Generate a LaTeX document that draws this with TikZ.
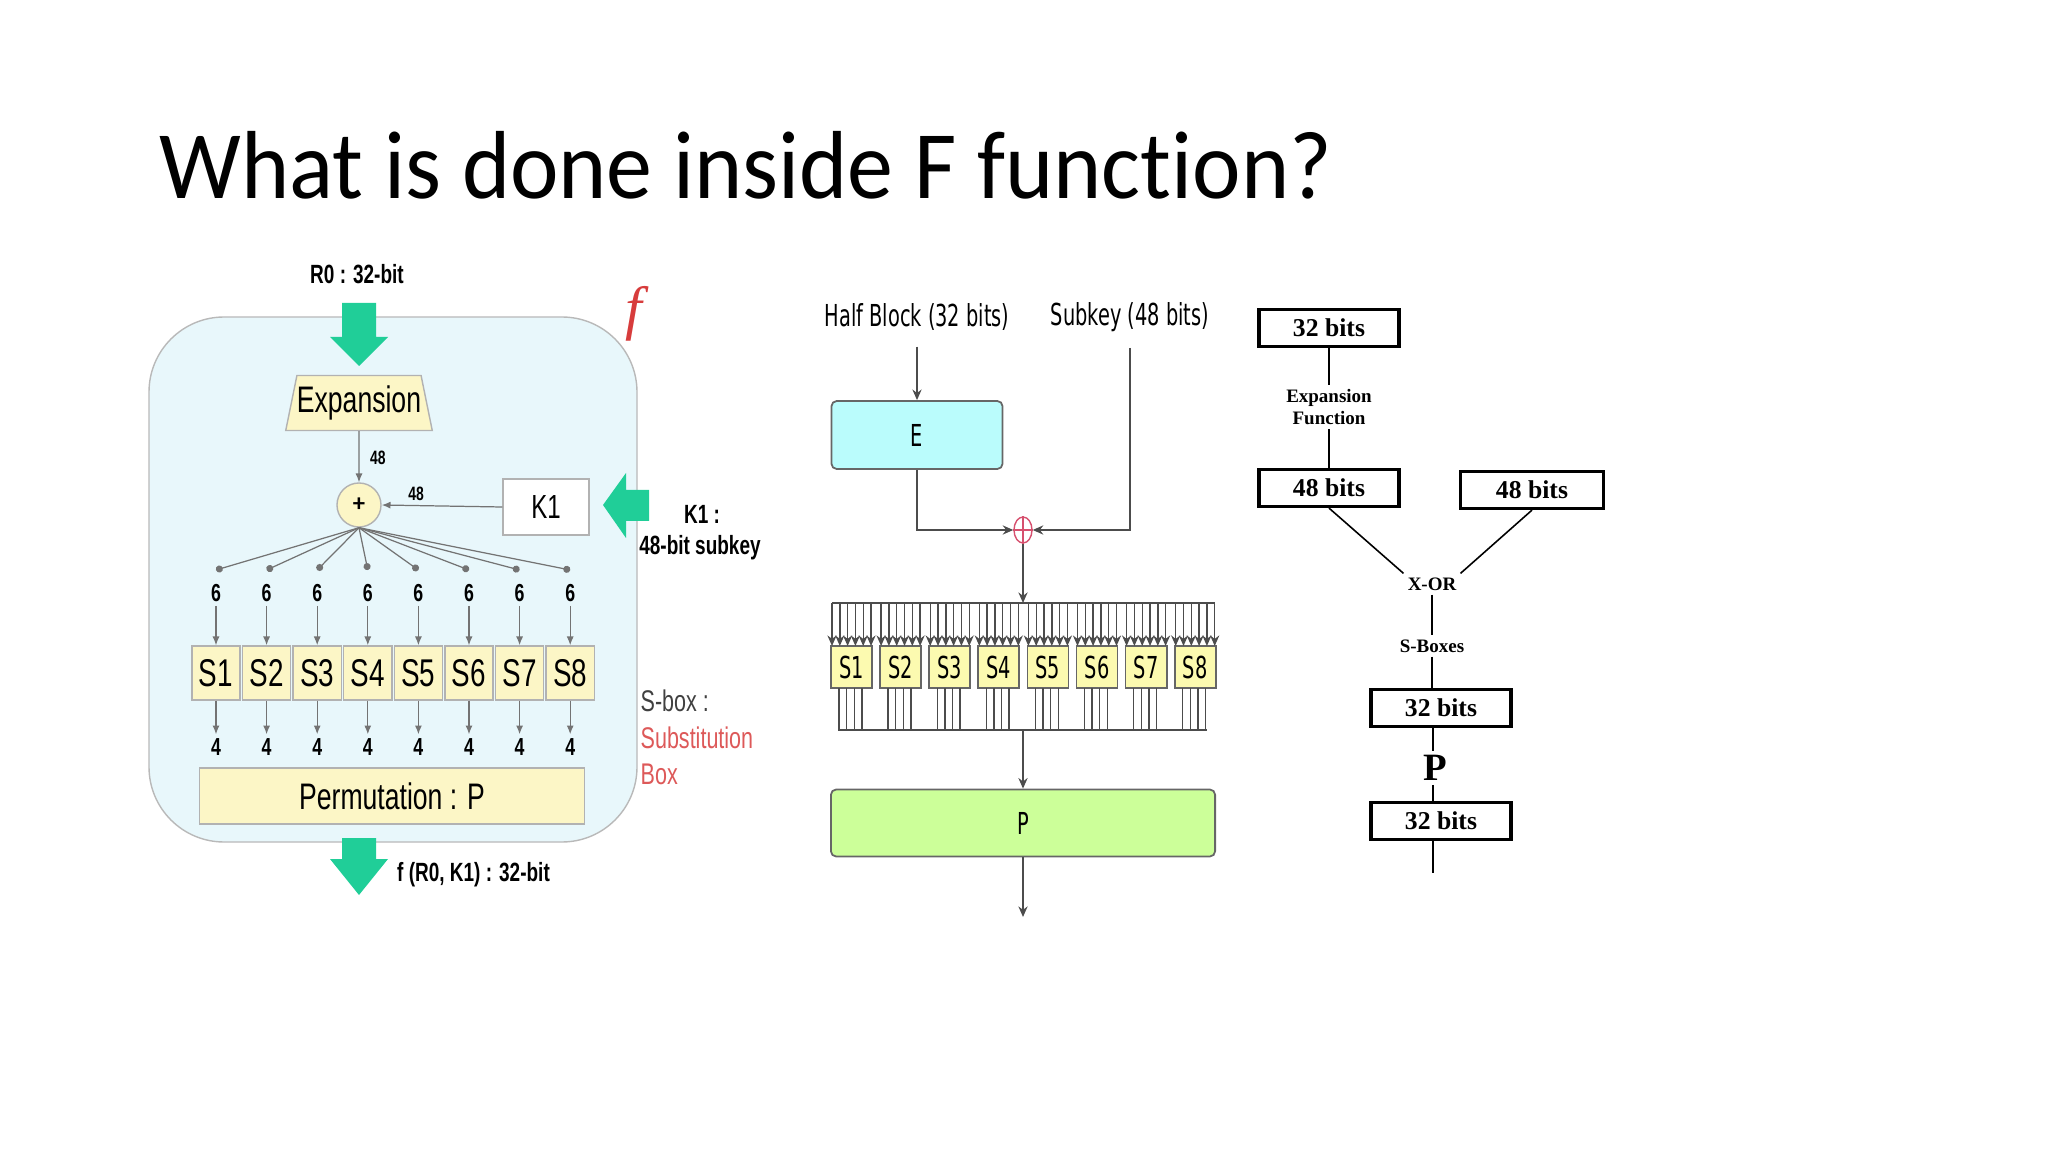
\documentclass[tikz,border=0pt]{standalone}
\usepackage{fontspec}
\setmainfont{Carlito}[Ligatures=NoCommon]
\newfontfamily\titlefont[FakeStretch=0.95,Ligatures=NoCommon]{Carlito}
\newfontfamily\narrowsf[FakeStretch=0.72]{Liberation Sans}
\newfontfamily\condsf[FakeStretch=0.64]{DejaVu Sans}
\newfontfamily\timesf{Liberation Serif}
\usetikzlibrary{arrows.meta,shapes.geometric,positioning}
\definecolor{fcyan}{RGB}{232,247,251}
\definecolor{fgreen}{RGB}{32,206,152}
\definecolor{fyellow}{RGB}{252,246,198}
\definecolor{ecyan}{RGB}{186,252,252}
\definecolor{pgreen}{RGB}{204,255,153}
\definecolor{syellow}{RGB}{252,250,176}
\definecolor{xred}{RGB}{214,80,110}
\definecolor{fred}{RGB}{215,60,60}

\begin{document}
\begin{tikzpicture}[x=0.01cm,y=-0.01cm,
    tinynum/.style={font=\narrowsf\bfseries\fontsize{5.5}{6}\selectfont, inner sep=1pt},
    num/.style={font=\narrowsf\bfseries\fontsize{7}{8}\selectfont, inner sep=1pt},
    lbl/.style={font=\narrowsf\bfseries\fontsize{7.5}{9}\selectfont, inner sep=1pt},
    note/.style={font=\narrowsf\fontsize{8.5}{10}\selectfont, inner sep=0pt, anchor=west},
    ybox/.style={draw=gray!60, fill=fyellow, font=\narrowsf\fontsize{11}{12}\selectfont, inner sep=0pt},
    fan/.style={draw=gray!90!black, line width=0.35pt},
    smallarr/.style={-{Latex[length=2.5pt,width=2pt]}},
    midtxt/.style={font=\condsf\fontsize{8.6}{10}\selectfont, inner sep=1pt},
    mbox/.style={draw=gray!80!black, line width=0.5pt, rounded corners=1.5pt, font=\condsf\fontsize{8.6}{10}\selectfont},
    wire/.style={draw=gray!60!black, line width=0.5pt},
    wtip/.style={-{Stealth[length=3pt,width=2.6pt]}},
    bbox/.style={draw, line width=0.9pt, minimum width=1.4cm, minimum height=0.37cm, inner sep=0pt, font=\timesf\bfseries\fontsize{7.3}{8}\selectfont},
    btxt/.style={font=\timesf\bfseries\fontsize{5.4}{6.2}\selectfont, inner sep=1pt, align=center},
    rline/.style={line width=0.45pt}]
\useasboundingbox (0,0) rectangle (2048,1152);

% Tiêu đề
\node[anchor=base west, inner sep=0pt, font=\titlefont\fontsize{27.5}{30}\selectfont] (title) at (159,199) {What is done inside F function?};

% Hình trái: khung f
\draw[draw=gray!55, fill=fcyan, rounded corners=0.75cm] (149,317) rectangle (637,842);
\node[font=\timesf\itshape\fontsize{17}{18}\selectfont, text=fred] (fsym) at (634,314) {f};
% Mũi tên xanh
\fill[fgreen] (342,303) -- (376,303) -- (376,337) -- (388,337) -- (359,366) -- (330,337) -- (342,337) -- cycle;
\fill[fgreen] (342,838) -- (376,838) -- (376,859) -- (388,859) -- (359,895) -- (330,859) -- (342,859) -- cycle;
\fill[fgreen] (649,490) -- (626,490) -- (626,473) -- (603,505) -- (626,538) -- (626,521) -- (649,521) -- cycle;
% Các khối
\node[lbl] (r0) at (357,274) {R0 : 32-bit};
\node[draw=gray!60, fill=fyellow, trapezium, trapezium left angle=72, trapezium right angle=72,
      trapezium stretches body, minimum width=1.3cm, minimum height=0.55cm, inner sep=0pt,
      font=\narrowsf\fontsize{10.5}{12}\selectfont] (expn) at (359,403) {Expansion};
\node[circle, draw=gray!60, fill=fyellow, minimum size=0.44cm, inner sep=0pt,
      font=\bfseries\fontsize{7}{8}\selectfont] (add) at (359,505) {+};
\node[draw=gray!60, fill=white, minimum width=0.86cm, minimum height=0.56cm, inner sep=0pt,
      font=\narrowsf\fontsize{9.5}{10}\selectfont] (k1) at (546,507) {K1};
\draw[fan, smallarr] (expn.south) -- (add.north);
\node[tinynum, anchor=west] (n48a) at (366,458) {48};
\draw[fan, smallarr] (k1.west) -- (add.east);
\node[tinynum] (n48b) at (416,494) {48};
% S-box trái
\foreach \i in {1,...,8} {
  \pgfmathsetmacro\xs{216+50.6*(\i-1)}
  \coordinate (d\i) at (\xs,570);
  \node[ybox, minimum width=0.48cm, minimum height=0.54cm] (s\i) at (\xs,673) {S\i};
  \node[num] (six\i) at (\xs,593) {6};
  \node[num] (four\i) at (\xs,747) {4};
  \draw[fan, -{Circle[length=2pt]}] (add.south) -- (d\i);
  \draw[fan, smallarr] (six\i.south) -- (s\i.north);
  \draw[fan, smallarr] (s\i.south) -- (four\i.north);
}
\node[ybox, minimum width=3.85cm, minimum height=0.56cm,
      font=\narrowsf\fontsize{10.5}{12}\selectfont] (perm) at (392,796) {Permutation : P};
% Nhãn bên phải
\node[lbl] (k1lbl) at (702,514) {K1 :};
\node[lbl] (k1sub) at (700,548) {48-bit subkey};
\node[note, text=black!75] (sbx1) at (640,701) {S-box :};
\node[note, text=fred!85] (sbx2) at (640,738) {Substitution};
\node[note, text=fred!85] (sbx3) at (640,774) {Box};
\node[lbl, anchor=west] (fout) at (393,875) {f (R0, K1) : 32-bit};

% Hình giữa
\node[midtxt] (hb) at (917,317) {Half Block (32 bits)};
\node[midtxt] (sk) at (1130,317) {Subkey (48 bits)};
\node[mbox, fill=ecyan, minimum width=1.71cm, minimum height=0.68cm] (ebox) at (917,435) {E};
\node[draw=xred, ellipse, minimum width=0.18cm, minimum height=0.26cm, inner sep=0pt, line width=0.4pt] (xm) at (1023,530) {};
\draw[xred, line width=0.3pt] (xm.north) -- (xm.south) (xm.west) -- (xm.east);
\draw[wire, wtip, shorten <=0.12cm] (hb.south) -- (ebox.north);
\draw[wire, wtip] (ebox.south) |- (xm.west);
\draw[wire, wtip, shorten <=0.12cm] (sk.south) |- (xm.east);
\coordinate (btop) at (1023,603);
\draw[wire, wtip] (xm.south) -- (btop);
\draw[wire] (832,603) -- (1215,603);
\foreach \i in {1,...,8} {
  \pgfmathsetmacro\sl{831+49.1*(\i-1)}
  \node[mbox, rounded corners=0pt, fill=syellow, minimum width=0.41cm, minimum height=0.42cm, inner sep=0pt] (ms\i) at (\sl+20.5,667) {S\i};
  \foreach \k in {0,...,5} \draw[wire, line width=0.4pt, wtip] (\sl+1+7.8*\k,603) -- (\sl+1+7.8*\k,646);
  \foreach \k in {0,...,3} \draw[wire, line width=0.4pt] (\sl+8+7.6*\k,688) -- (\sl+8+7.6*\k,730);
}
\draw[wire] (838,730) -- (1207,730);
\coordinate (bbot) at (1023,730);
\node[mbox, fill=pgreen, minimum width=3.84cm, minimum height=0.67cm] (pbox) at (1023,823) {P};
\draw[wire, wtip] (bbot) -- (pbox.north);
\coordinate (pout) at (1023,917);
\draw[wire, wtip] (pbox.south) -- (pout);

% Hình phải
\node[bbox] (r32a) at (1329,328) {32 bits};
\node[btxt] (expf) at (1329,407) {Expansion\\Function};
\node[bbox] (r48a) at (1329,488) {48 bits};
\node[bbox, minimum width=1.43cm] (r48b) at (1532,490) {48 bits};
\node[btxt] (xorr) at (1432,584) {X-OR};
\node[btxt] (sbxs) at (1432,646) {S-Boxes};
\node[bbox] (r32b) at (1441,708) {32 bits};
\node[font=\timesf\bfseries\fontsize{11}{12}\selectfont, inner sep=1pt] (pl) at (1435,768) {P};
\node[bbox] (r32c) at (1441,821) {32 bits};
\coordinate (rend) at (1433,873);
\draw[rline] (r32a.south) -- (expf.north);
\draw[rline] (expf.south) -- (r48a.north);
\draw[rline] (r48a.south) -- (xorr.north west);
\draw[rline] (r48b.south) -- (xorr.north east);
\draw[rline] (xorr.south) -- (sbxs.north);
\draw[rline] (sbxs.south) -- (sbxs.south |- r32b.north);
\draw[rline] (rend |- r32b.south) -- (rend |- pl.north);
\draw[rline] (rend |- pl.south) -- (rend |- r32c.north);
\draw[rline] (rend |- r32c.south) -- (rend);
\end{tikzpicture}
\end{document}
